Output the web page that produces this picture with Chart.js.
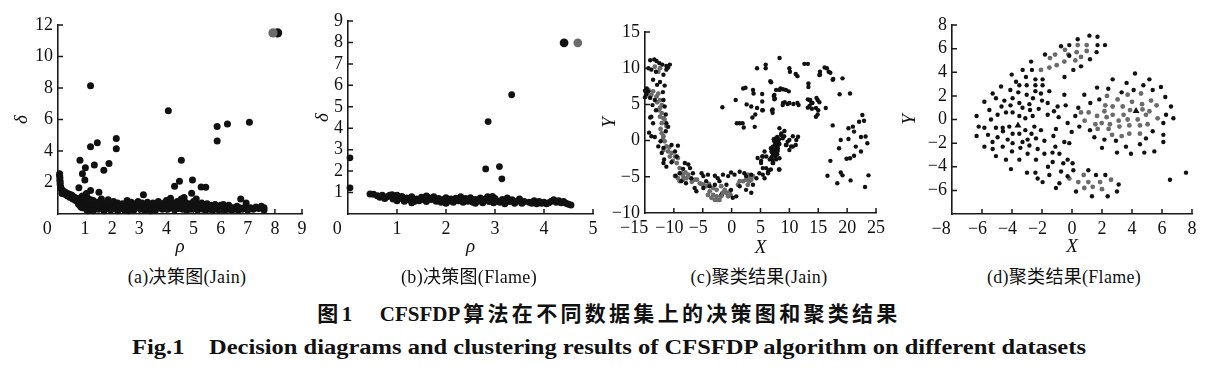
<!DOCTYPE html>
<html>
<head>
<meta charset="utf-8">
<script src="https://cdn.jsdelivr.net/npm/chart.js@4.4.0/dist/chart.umd.min.js"></script>
<style>
body { margin: 0; background: #fff; width: 1218px; height: 370px; position: relative; overflow: hidden;
       font-family: "Liberation Serif", "Noto Sans CJK SC", serif; color: #111; }
canvas { position: absolute; top: 0; }
.sub { position: absolute; top: 267px; font-size: 18px; line-height: 20px; letter-spacing: 0.3px;
       transform: translateX(-50%); white-space: nowrap; }
.cap { position: absolute; left: 609px; transform: translateX(-50%); white-space: nowrap; font-weight: bold; line-height: 24px; }
.cap .lat { letter-spacing: 0; margin-right: 3px; }
</style>
</head>
<body>
<canvas id="ca" width="312" height="262" style="left:0px"></canvas>
<canvas id="cb" width="303" height="262" style="left:300px"></canvas>
<canvas id="cc" width="291" height="262" style="left:598px"></canvas>
<canvas id="cd" width="307" height="262" style="left:898px"></canvas>

<div class="sub" style="left:187px">(a)决策图(Jain)</div>
<div class="sub" style="left:469px">(b)决策图(Flame)</div>
<div class="sub" style="left:759px">(c)聚类结果(Jain)</div>
<div class="sub" style="left:1064px">(d)聚类结果(Flame)</div>

<div class="cap" style="top:302px;font-size:21px;letter-spacing:3.3px">图1　<span class="lat">CFSFDP</span>算法在不同数据集上的决策图和聚类结果</div>
<div class="cap" style="top:335px;font-size:20px;transform:translateX(-50%) scaleX(1.225)">Fig.1　Decision diagrams and clustering results of CFSFDP algorithm on different datasets</div>

<script>
// (a) decision graph, Jain: [rho, delta]
const jainDecisionOutliers = [
  [1.2, 8.15], [4.07, 6.55], [5.87, 5.55], [5.87, 4.63], [6.25, 5.72], [7.06, 5.83],
  [1.2, 4.27], [1.45, 4.53], [2.15, 4.8], [2.15, 4.15], [0.81, 3.41], [1.34, 3.11],
  [1.88, 3.2], [1.69, 2.77], [1.01, 2.94], [0.9, 2.56], [0.99, 2.16], [4.55, 3.41],
  [4.48, 2.08], [4.3, 1.76], [4.96, 2.16], [5.28, 1.71], [5.45, 1.7], [4.93, 1.31],
  [5.1, 0.95], [3.15, 1.23], [1.51, 1.38], [1.2, 1.5], [0.77, 1.67], [6.74, 0.95],
  [6.94, 0.7], [4.65, 1.05], [1.05, 1.3], [0.95, 1.0]
];
const jainDecisionBand = [
  [0.06, 2.55], [0.06, 2.45], [0.07, 2.3], [0.07, 2.15], [0.08, 2.0], [0.08, 1.85], [0.1, 1.7],
  [0.12, 1.6], [0.15, 1.5], [0.2, 1.45], [0.25, 1.4], [0.3, 1.35], [0.35, 1.3], [0.42, 1.25],
  [0.5, 1.2], [0.55, 1.12], [0.62, 1.05], [0.68, 1.0], [0.72, 0.92], [0.78, 0.85], [0.82, 0.78],
  [0.86, 0.7], [0.9, 0.62], [0.75, 0.65], [0.8, 0.55], [0.85, 0.45], [0.95, 0.5], [1.0, 0.42],
  [0.9, 0.4], [0.15, 1.3], [0.25, 1.25], [0.35, 1.15], [0.45, 1.05], [0.55, 0.95], [0.65, 0.85],
  [0.9, 1.15], [1.1, 1.0], [0.85, 1.05], [1.05, 0.9],
  [1.0, 0.55], [1.05, 0.3], [1.1, 0.75], [1.15, 0.45], [1.2, 0.25], [1.25, 0.6], [1.3, 0.85],
  [1.35, 0.35], [1.4, 0.55], [1.45, 0.75], [1.5, 0.3], [1.55, 0.5], [1.6, 0.8], [1.65, 0.4],
  [1.7, 0.6], [1.75, 0.3], [1.8, 0.7], [1.85, 0.9], [1.9, 0.45], [1.95, 0.25], [2.0, 0.6],
  [1.1, 0.2], [1.3, 0.2], [1.5, 0.55], [1.7, 0.2], [1.9, 0.75], [1.2, 0.9], [1.6, 0.95],
  [2.05, 0.8], [2.1, 0.35], [2.15, 0.55], [2.2, 0.7], [2.25, 0.3], [2.3, 0.5], [2.38, 0.65],
  [2.45, 0.25], [2.5, 0.45], [2.55, 0.85], [2.6, 0.6], [2.65, 0.3], [2.7, 0.75], [2.75, 0.5],
  [2.8, 0.25], [2.85, 0.65], [2.9, 0.4], [2.95, 0.8], [3.0, 0.55], [2.2, 0.2], [2.6, 0.2],
  [3.05, 0.3], [3.1, 0.7], [3.15, 0.45], [3.2, 0.25], [3.25, 0.6], [3.3, 0.75], [3.35, 0.4],
  [3.4, 0.55], [3.45, 0.3], [3.5, 0.7], [3.55, 0.45], [3.6, 0.25], [3.65, 0.6], [3.7, 0.8],
  [3.75, 0.4], [3.8, 0.55], [3.85, 0.3], [3.9, 0.7], [3.95, 0.45], [4.0, 0.85], [3.4, 0.2],
  [4.05, 0.3], [4.1, 0.6], [4.15, 1.0], [4.2, 0.4], [4.25, 0.7], [4.3, 0.25], [4.35, 0.55],
  [4.4, 0.8], [4.45, 0.35], [4.5, 0.6], [4.55, 0.95], [4.6, 0.3], [4.65, 0.5], [4.7, 0.75],
  [4.75, 0.25], [4.8, 0.45], [4.85, 0.65], [4.9, 0.3], [4.95, 0.55], [5.0, 0.8],
  [5.05, 0.35], [5.1, 0.55], [5.15, 0.25], [5.2, 0.6], [5.25, 0.4], [5.3, 0.7], [5.35, 0.3],
  [5.4, 0.5], [5.45, 0.25], [5.5, 0.65], [5.55, 0.4], [5.6, 0.3], [5.65, 0.55], [5.7, 0.25],
  [5.75, 0.45], [5.8, 0.6], [5.85, 0.3], [5.9, 0.5], [5.95, 0.25], [6.0, 0.55],
  [6.05, 0.35], [6.1, 0.6], [6.15, 0.25], [6.2, 0.45], [6.25, 0.3], [6.3, 0.55], [6.4, 0.25],
  [6.45, 0.4], [6.5, 0.3], [6.6, 0.5], [6.65, 0.25], [6.7, 0.4], [6.8, 0.3], [6.9, 0.45],
  [7.0, 0.25], [7.1, 0.4], [7.2, 0.3], [7.3, 0.45], [7.4, 0.35], [7.5, 0.5], [7.6, 0.4], [7.6, 0.25]
];
const jainDecisionCenterBlack = [[8.1, 11.5]];
const jainDecisionCenterGray = [[7.93, 11.5]];

// (b) decision graph, Flame: [rho, delta]
const flameDecisionOutliers = [
  [0.04, 2.62], [0.04, 1.22], [3.34, 5.56], [2.86, 4.31], [2.81, 2.1], [3.09, 2.21], [3.14, 1.64]
];
const flameDecisionBand = [
  [0.45, 0.93], [0.52, 0.92], [0.6, 0.85], [0.65, 0.78], [0.7, 0.88], [0.75, 0.72], [0.8, 0.8],
  [0.85, 0.88], [0.9, 0.9], [0.92, 0.7], [0.97, 0.78], [1.0, 0.62], [1.05, 0.72], [1.1, 0.82],
  [1.15, 0.6], [1.2, 0.75], [1.25, 0.66], [1.3, 0.8], [1.35, 0.58], [1.4, 0.7], [1.45, 0.62],
  [1.5, 0.78], [1.55, 0.66], [1.6, 0.58], [1.65, 0.76], [1.7, 0.68], [1.75, 0.8], [1.8, 0.6],
  [1.85, 0.72], [1.9, 0.55], [1.95, 0.68], [2.0, 0.76], [2.05, 0.6], [2.1, 0.7], [2.15, 0.55],
  [2.2, 0.74], [2.25, 0.62], [2.3, 0.68], [2.35, 0.55], [2.4, 0.72], [2.45, 0.6], [2.5, 0.76],
  [2.55, 0.55], [2.6, 0.68], [2.65, 0.6], [2.7, 0.75], [2.75, 0.52], [2.8, 0.7], [2.85, 0.8],
  [2.88, 0.58], [2.92, 0.66], [2.97, 0.52], [3.0, 0.72], [3.05, 0.6], [3.1, 0.55], [3.15, 0.68],
  [3.2, 0.48], [3.25, 0.75], [3.3, 0.58], [3.35, 0.66], [3.45, 0.6], [3.5, 0.7], [3.55, 0.5],
  [3.6, 0.58], [3.7, 0.55], [3.75, 0.5], [3.8, 0.62], [3.85, 0.48], [3.9, 0.58], [3.95, 0.5],
  [4.0, 0.55], [4.05, 0.48], [4.1, 0.52], [4.15, 0.6], [4.2, 0.66], [4.25, 0.55], [4.3, 0.62],
  [4.35, 0.52], [4.4, 0.58], [4.45, 0.5], [4.5, 0.45], [4.55, 0.42],
  [1.0, 0.88], [1.6, 0.84], [2.3, 0.8], [2.95, 0.82], [1.3, 0.52], [2.0, 0.5], [2.6, 0.5], [3.4, 0.5]
];
const flameDecisionCenterBlack = [[4.41, 7.98]];
const flameDecisionCenterGray = [[4.69, 7.98]];

// (c) clustering result, Jain: [X, Y]
const jainClusterBlack = [
  [-1.6, 4.6], [0.7, 5.6], [0.9, 2.4], [1.4, 2.4], [1.9, 2.4], [2.1, 1.8], [2.0, 7.2], [2.4, 7.3],
  [2.6, 5.0], [3.4, 4.7], [3.7, 7.0], [3.8, 6.5], [3.6, 3.2], [4.0, 1.9], [4.1, 3.6], [4.4, 10.0],
  [4.4, 4.5], [5.3, 5.4], [5.4, 4.2], [5.9, 10.5], [5.9, 10.0], [6.7, 8.2], [7.1, 4.3], [7.4, 6.3],
  [7.5, 5.8], [8.3, 11.4], [8.3, 7.0], [8.9, 7.1], [9.4, 7.0], [8.9, 5.2], [9.2, 5.3], [10.0, 10.0],
  [10.1, 9.5], [10.0, 5.2], [11.1, 9.2], [11.4, 8.9], [11.4, 5.2], [12.6, 10.6], [13.2, 10.6],
  [13.3, 7.9], [13.3, 7.4], [13.2, 5.7], [13.6, 5.6], [13.8, 5.2], [13.5, 4.8], [14.6, 4.5],
  [14.9, 5.6], [14.6, 3.3], [15.3, 9.5], [15.3, 9.1], [16.1, 10.1], [16.5, 10.0], [16.8, 9.5],
  [16.3, 4.5], [17.5, 8.4], [17.5, 2.1], [19.2, 8.6], [18.7, 6.4], [20.5, 6.5],
  [6.84, 8.05], [5.29, 6.44], [7.3, 6.16], [7.4, 5.7], [7.7, 7.0], [8.45, 7.22], [9.9, 6.8],
  [8.85, 4.9], [9.7, 5.05], [10.7, 5.05], [11.6, 4.9], [5.3, 4.2], [7.0, 4.2], [7.1, 3.85],
  [13.45, 5.6], [14.0, 5.2], [13.2, 4.55], [13.9, 4.4], [14.7, 5.9], [15.2, 5.3], [14.9, 3.6],
  [15.2, 9.06], [17.1, 9.38], [17.6, 8.5], [15.0, 4.2],
  [22.64, 3.54], [22.07, 2.61], [22.93, 2.75], [20.23, 1.7], [21.0, 1.93], [21.2, 1.24],
  [20.23, 0.22], [18.9, 0.08], [18.6, -1.06], [21.5, -0.83], [22.4, -1.5], [23.2, 0.56],
  [23.5, -0.36], [20.5, -2.44], [19.9, -2.5], [21.2, -2.1], [17.1, -2.8], [16.6, -4.85],
  [18.9, -4.4], [19.2, -4.8], [20.6, -5.5], [18.3, -5.9], [23.1, -6.4], [23.7, -4.8], [22.4, 0.5],
  [8.28, 1.7], [9.14, 1.33], [8.56, 0.78], [8.85, 0.32], [7.98, 0.08], [7.41, -0.14], [7.7, -0.37],
  [8.28, -0.46], [7.1, -0.83], [6.8, -1.06], [7.41, -1.29], [7.98, -1.43], [7.1, -1.75],
  [7.58, -2.2], [7.1, -2.67], [7.2, -3.1], [8.28, -2.44], [8.28, -4.0], [5.4, -2.2], [5.1, -2.8],
  [5.98, -3.8], [5.4, -4.7], [5.7, -5.2], [6.3, -4.3], [6.5, -4.1], [10.0, -1.29], [10.6, -0.83],
  [11.2, 0.08], [11.5, 0.54], [9.4, -0.6], [9.7, -0.14], [8.6, 1.0], [9.1, 0.6], [10.0, 0.1],
  [10.6, 0.6], [10.3, -0.8], [11.1, -0.6], [9.5, -0.6], [4.8, -4.5], [5.4, -3.8], [5.1, -3.1],
  [4.5, -2.4], [5.3, -2.2], [5.7, -1.5], [6.0, -2.2], [6.6, -2.6], [7.1, -3.1], [6.8, -4.0],
  [6.3, -4.5], [8.2, -4.0], [7.6, 0.3], [7.9, 0.5], [8.1, -0.2], [7.3, 0.2], [7.5, -0.6],
  [7.8, -0.9], [8.0, -1.1], [7.2, -1.2], [7.6, -1.6], [7.9, -1.9], [7.3, -2.0], [6.9, -2.3],
  [7.7, -2.6], [6.9, -1.5], [8.2, 0.2], [7.8, -0.3], [8.0, -0.7],
  [-14.1, 11.1], [-13.4, 11.2], [-13.0, 11.0], [-12.5, 10.7], [-12.0, 10.5], [-11.3, 10.3],
  [-10.7, 10.5], [-14.4, 10.0], [-13.9, 9.8], [-13.1, 9.5], [-11.8, 9.1], [-11.3, 9.8],
  [-11.0, 10.1], [-14.7, 7.2], [-14.4, 6.8], [-14.8, 6.4], [-14.1, 5.9], [-13.3, 5.6],
  [-13.7, 4.9], [-13.1, 4.2], [-13.9, 3.3], [-14.1, 3.2], [-13.6, 2.4], [-11.8, 5.6],
  [-11.6, 4.7], [-11.4, 3.6], [-11.3, 2.4], [-11.0, 1.9], [-11.4, 1.3], [-14.3, 1.1],
  [-13.9, 0.6], [-13.3, 0.5], [-12.3, -0.1], [-12.7, -0.8], [-11.8, -1.0], [-12.1, -1.7],
  [-11.7, -2.6], [-11.8, -3.1], [-10.4, -0.6], [-9.3, -0.7], [-9.8, -1.5], [-9.5, -2.2],
  [-10.4, -3.0], [-11.3, -3.6], [-8.1, -3.1], [-7.5, -3.3], [-8.4, -3.9], [-9.0, -4.5],
  [-9.7, -4.85], [-8.7, -5.6], [-7.9, -5.9], [-7.0, -5.2], [-6.7, -4.5], [-7.2, -3.8],
  [-6.4, -6.55], [-6.1, -7.0], [-5.2, -4.5], [-4.9, -4.9], [-4.4, -5.6], [-4.1, -4.7],
  [-2.9, -4.85], [-2.4, -5.2], [-1.5, -4.7], [-0.6, -4.9], [-0.1, -4.4], [0.5, -4.7], [1.4, -4.3],
  [2.2, -4.5], [2.5, -4.9], [3.4, -4.7], [4.3, -5.2], [3.7, -6.1], [2.5, -6.8], [3.4, -7.2],
  [1.4, -6.3], [0.8, -7.7], [0.2, -7.9], [-0.1, -6.8], [-0.9, -6.1], [-2.1, -5.6], [-2.9, -6.1],
  [-3.8, -6.3], [-4.9, -6.55], [-15.0, 6.9], [-15.0, 6.0], [-12.4, 8.1], [-11.6, 7.6],
  [-11.9, 6.7], [-12.9, 7.7], [-13.6, 8.4]
];
const jainClusterGray = [
  [-13.3, 10.2], [-12.7, 9.5], [-12.4, 10.0], [-14.4, 7.0], [-13.9, 6.3], [-13.6, 6.8],
  [-13.0, 6.1], [-12.4, 5.6], [-12.1, 4.9], [-12.4, 4.5], [-12.7, 6.5], [-12.1, 3.8],
  [-11.8, 3.1], [-12.1, 2.4], [-11.6, 2.9], [-11.3, 2.0], [-12.1, 1.0], [-11.8, 0.6],
  [-11.6, -0.1], [-11.3, -0.8], [-11.0, -1.5], [-11.8, -1.3], [-10.7, -2.2], [-10.4, -1.7],
  [-9.8, -2.2], [-9.3, -2.4], [-9.5, -3.1], [-9.0, -3.8], [-8.7, -4.5], [-8.4, -4.9],
  [-7.8, -5.2], [-7.5, -4.7], [-6.4, -5.4], [-5.5, -5.9], [-4.9, -6.1], [-4.4, -6.3],
  [-3.8, -7.0], [-3.2, -7.5], [-2.6, -7.7], [-2.4, -8.2], [-1.8, -7.7], [-1.5, -7.2],
  [-1.2, -6.8], [-1.8, -6.3], [-2.6, -6.8], [-3.2, -6.55], [-0.9, -7.2], [-0.6, -7.7],
  [-0.3, -7.0], [-4.1, -7.5], [-3.5, -7.9], [-2.9, -8.2], [-2.1, -8.2], [1.1, -6.1],
  [1.4, -5.6], [2.0, -5.6], [2.5, -5.4], [2.8, -4.7], [3.1, -5.2], [3.7, -4.9], [3.1, -5.6],
  [2.8, -6.1], [3.4, -5.4], [-14.7, 6.5], [-14.2, 6.1], [-9.0, -5.6], [-8.4, -5.4],
  [-9.8, -4.9], [-9.3, -5.2], [-12.9, 5.3], [-12.6, 4.2], [-12.4, 3.3], [-12.3, 1.6],
  [-11.9, 0.2], [-10.8, -0.9], [-10.2, -2.8], [-8.0, -4.4], [-6.9, -5.7], [-6.0, -5.4],
  [-5.2, -6.0], [-3.9, -6.0], [-0.2, -7.5]
];
const jainClusterCenters = [[-1.8, -7.4]];

// (d) clustering result, Flame: [X, Y]
const flameClusterBlack = [
  [0.38, 6.8], [1.16, 7.1], [1.7, 7.0], [1.7, 6.3], [2.2, 6.3], [1.64, 5.7], [1.2, 5.1], [0.6, 4.5],
  [-0.18, 6.3], [-0.73, 6.2], [-1.8, 5.5], [-2.73, 4.9], [-3.29, 4.2], [-2.67, 4.2], [-4.02, 3.8],
  [-3.73, 3.2], [-4.73, 2.8], [-5.29, 2.2], [-5.84, 1.5], [-6.36, 0.3], [-6.22, -0.6],
  [-6.36, -1.4], [-5.84, -2.3], [-5.29, -2.5], [-5.07, -3.1], [-4.07, -4.2], [-2.44, -4.5],
  [-1.96, -5.3], [-1.51, -4.7], [-1.07, -5.8], [-0.5, 3.6], [0.09, 4.2], [-0.18, 5.4],
  [-3.07, 3.6], [-2.44, 3.4], [-1.96, 3.4], [-3.51, 2.9], [-3.02, 2.9], [-2.44, 2.9], [-1.96, 2.9],
  [-4.11, 2.5], [-3.58, 2.3], [-3.02, 2.1], [-2.44, 2.4], [-2.07, 2.2], [-1.51, 2.4], [-5.07, 1.8],
  [-4.51, 1.6], [-3.96, 1.8], [-3.51, 1.4], [-2.84, 1.3], [-2.22, 0.9], [-1.62, 0.4], [-5.51, 0.8],
  [-4.96, 0.4], [-4.4, 0.6], [-3.96, 0.6], [-3.51, 0.3], [-3.11, 0.1], [-2.62, 0.3], [-5.84, -0.7],
  [-5.07, -0.7], [-4.62, -0.7], [-4.18, -0.6], [-3.11, -0.9], [-2.51, -0.6], [-2.07, -0.9],
  [-1.07, -0.8], [-4.96, -1.5], [-4.29, -1.7], [-3.96, -1.2], [-3.51, -1.2], [-2.96, -1.7],
  [-2.4, -1.6], [-1.84, -1.8], [-4.62, -2.3], [-3.96, -2.0], [-3.44, -2.4], [-2.84, -2.2],
  [-2.29, -2.5], [-4.4, -3.4], [-3.51, -3.4], [-2.96, -2.9], [-2.4, -3.4], [-1.84, -2.9],
  [-1.29, -3.6], [-3.0, -4.5], [-2.29, -5.0], [-1.6, -4.0], [-0.73, -4.4], [-0.29, -3.4],
  [-0.84, -2.9], [-0.51, -1.9], [-1.11, -2.3], [-0.89, 0.2], [-0.96, 1.1], [-0.51, 2.1],
  [-1.62, 1.4], [-2.0, 1.6], [-0.29, -0.3], [-0.42, 1.2], [-1.2, 0.7], [-0.02, -1.05],
  [-0.18, -2.0], [-1.24, -1.4], [-1.3, -2.8], [-0.58, -3.7],
  [-5.4, 0.0], [-4.7, 1.1], [-4.1, 1.2], [-3.3, 1.0], [-2.6, 1.8], [-2.8, 0.8], [-5.6, -1.3],
  [-4.6, -1.0], [-2.7, -1.2], [-3.3, -1.9], [-4.0, -2.7], [-5.3, -1.9],
  [0.04, -3.7], [0.09, -4.3], [1.09, -4.3], [1.6, -4.7], [2.22, -4.7], [3.11, -5.5], [3.0, -6.1],
  [2.38, -6.5], [1.33, -6.5], [0.27, -6.1], [-0.84, -5.4], [-0.29, -4.8],
  [6.53, -5.1], [7.6, -4.5],
  [2.71, 3.4], [4.2, 3.9], [5.16, 3.4], [5.93, 2.75], [3.64, 3.1], [4.76, 2.9], [5.38, 2.5],
  [1.67, 2.7], [2.42, 2.6], [3.31, 2.3], [4.11, 2.5], [0.82, 2.1], [1.82, 1.7], [1.22, 1.4],
  [0.42, 1.0], [0.22, 0.3], [0.49, -0.6], [1.2, -0.9], [1.49, -1.5], [2.16, -1.7], [2.0, -2.4],
  [2.93, -1.8], [3.0, -2.8], [3.6, -2.3], [3.93, -2.9], [4.53, -2.1], [4.93, -1.6], [4.82, -2.8],
  [5.49, -2.7], [5.38, -1.0], [6.09, -1.3], [6.09, -1.9], [6.09, -0.3], [6.27, 0.4], [6.76, 0.1],
  [6.6, 1.1], [6.22, 1.9]
];
const flameClusterGray = [
  [0.38, 6.3], [0.98, 6.3], [0.31, 5.7], [0.98, 5.8], [0.6, 5.3], [0.22, 5.0], [-1.13, 5.5],
  [-1.47, 5.2], [-2.07, 4.2], [-1.51, 4.4], [-1.02, 4.6], [-0.51, 4.9], [-0.24, 5.5], [-0.47, 5.9],
  [2.33, 2.0], [3.04, 1.7], [3.71, 2.1], [4.6, 2.2], [5.27, 1.6], [5.64, 1.2], [4.67, 1.3],
  [4.0, 1.5], [3.38, 1.1], [2.71, 1.1], [2.22, 1.2], [0.6, 0.6], [1.11, 0.6], [1.67, 0.3],
  [2.16, 0.7], [2.71, 0.4], [3.44, 0.4], [3.87, 0.8], [4.7, 0.85], [5.16, 0.7], [5.71, 0.1],
  [4.93, 0.4], [4.38, 0.0], [3.71, 0.0], [3.11, -0.1], [2.53, -0.4], [1.98, -0.3], [1.56, -0.4],
  [1.71, -0.8], [2.44, -0.8], [3.16, -0.6], [3.82, -0.5], [4.53, -0.5], [5.04, -0.4],
  [2.67, -1.3], [3.31, -1.4], [3.82, -1.2], [4.53, -1.2], [0.84, -0.1], [2.31, 0.2],
  [-0.18, -5.0], [0.42, -5.3], [0.78, -4.7], [1.09, -5.3], [1.38, -5.7], [1.87, -5.3],
  [2.0, -5.9], [2.6, -5.1], [0.82, -5.8]
];
const flameClusterCenters = [[-3.6, -0.5], [4.27, 0.72]];

const BLACK = '#111111';
const GRAY = '#6b6b6b';

Chart.defaults.font.family = '"Liberation Serif", "Times New Roman", serif';
Chart.defaults.color = '#111';

const toXY = pts => pts.map(p => ({ x: p[0], y: p[1] }));

function ds(pts, color, r, style) {
  return {
    data: toXY(pts), backgroundColor: color, borderColor: color, borderWidth: 0,
    pointRadius: r, pointStyle: style || 'circle', clip: false
  };
}

// tick text; on the x axis negative numbers keep their digits over the tick,
// and the corner label is pushed left like in the print
function fmt(hide, corner, horizontal) {
  return v => {
    if (v === hide) return '';
    let s = v < 0 ? '\u2212' + (-v) : '' + v;
    if (!horizontal) return s;
    if (v === corner) return s + '\u2002\u2002\u2009';
    return v < 0 ? s + '\u2002' : s;
  };
}

// small ticks pointing into the plot
const inTicks = {
  id: 'inTicks',
  afterDraw(chart) {
    const { ctx, chartArea: a, scales: { x, y } } = chart;
    ctx.save();
    ctx.strokeStyle = '#1a1a1a';
    ctx.lineWidth = 1.5;
    ctx.beginPath();
    x.ticks.forEach(t => {
      const px = x.getPixelForValue(t.value);
      if (px > a.left + 1) { ctx.moveTo(px, a.bottom); ctx.lineTo(px, a.bottom - 5); }
    });
    y.ticks.forEach(t => {
      const py = y.getPixelForValue(t.value);
      if (py < a.bottom - 1) { ctx.moveTo(a.left, py); ctx.lineTo(a.left + 5, py); }
    });
    ctx.stroke();
    ctx.restore();
  }
};

function axis(pos, min, max, step, title, hide, size, titlePad) {
  const horizontal = pos === 'bottom';
  return {
    type: 'linear', position: pos, min: min, max: max,
    grid: { display: false, drawTicks: false },
    border: { display: true, color: '#1a1a1a', width: 1.6 },
    ticks: { stepSize: step, padding: horizontal ? 4 : 5, autoSkip: false, maxRotation: 0,
             font: { size: 18 }, color: '#111', callback: fmt(hide, min, horizontal) },
    title: { display: true, text: title, color: '#111', padding: titlePad,
             font: { size: 19, style: 'italic' } },
    afterFit: s => { if (horizontal) s.height = size; else s.width = size; }
  };
}

function panel(id, datasets, xAxis, yAxis, padding) {
  new Chart(document.getElementById(id), {
    type: 'scatter',
    data: { datasets: datasets },
    options: {
      responsive: false, animation: false, devicePixelRatio: 1, events: [],
      layout: { padding: padding },
      plugins: { legend: { display: false }, tooltip: { enabled: false } },
      scales: { x: xAxis, y: yAxis }
    },
    plugins: [inTicks]
  });
}

panel('ca',
  [ds(jainDecisionBand, BLACK, 3.5), ds(jainDecisionOutliers, BLACK, 3.5),
   ds(jainDecisionCenterGray, GRAY, 4.6), ds(jainDecisionCenterBlack, BLACK, 4.6)],
  axis('bottom', 0, 9, 1, 'ρ', null, 44, { top: 0, bottom: 0 }),
  axis('left', 0, 12, 2, 'δ', 0, 48, { top: 1, bottom: 0 }),
  { left: 10, right: 10, top: 25, bottom: 4 });

panel('cb',
  [ds(flameDecisionBand, BLACK, 3.5), ds(flameDecisionOutliers, BLACK, 3.4),
   ds(flameDecisionCenterBlack, BLACK, 4.4), ds(flameDecisionCenterGray, GRAY, 4.4)],
  axis('bottom', 0, 5, 1, 'ρ', null, 44, { top: 0, bottom: 0 }),
  axis('left', 0, 9, 1, 'δ', 0, 38, { top: 2, bottom: 0 }),
  { left: 10, right: 10, top: 21, bottom: 4 });

panel('cc',
  [ds(jainClusterBlack, BLACK, 2.2), ds(jainClusterGray, GRAY, 2.4),
   ds(jainClusterCenters, BLACK, 3.5, 'triangle')],
  axis('bottom', -15, 25, 5, 'X', null, 46, { top: 0, bottom: 0 }),
  axis('left', -10, 15, 5, 'Y', null, 47, { top: 1, bottom: 0 }),
  { left: 0, right: 12, top: 32, bottom: 3 });

panel('cd',
  [ds(flameClusterBlack, BLACK, 2.2), ds(flameClusterGray, GRAY, 2.4),
   ds(flameClusterCenters, BLACK, 4, 'triangle')],
  axis('bottom', -8, 8, 2, 'X', null, 44, { top: 0, bottom: 0 }),
  axis('left', -8, 8, 2, 'Y', -8, 54, { top: 1, bottom: 0 }),
  { left: 0, right: 13, top: 25, bottom: 4 });
</script>
</body>
</html>
